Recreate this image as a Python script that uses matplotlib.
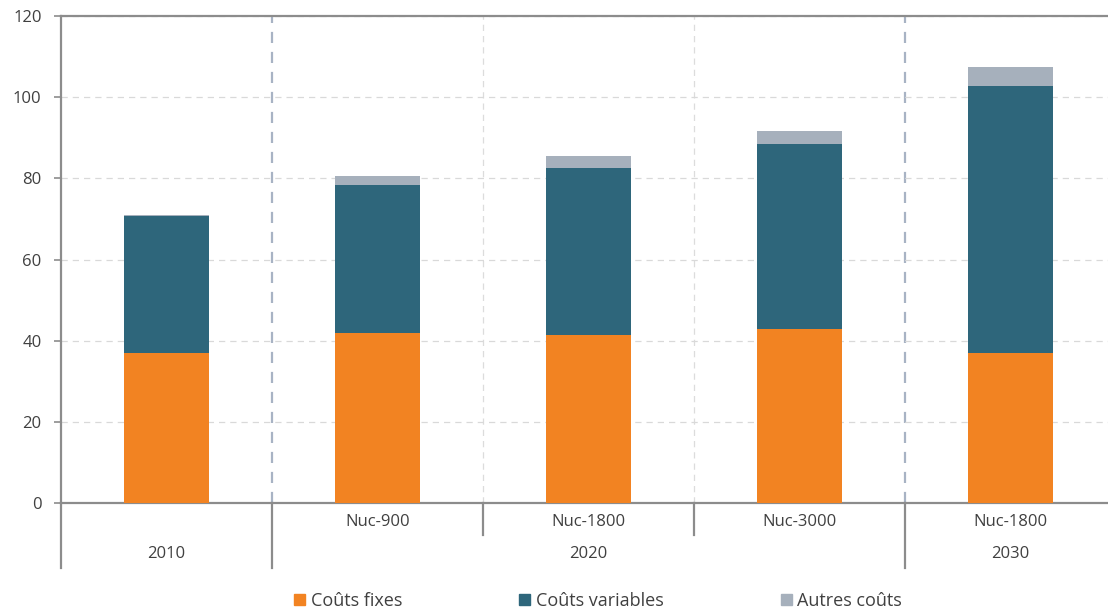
import matplotlib
matplotlib.use("Agg")
from matplotlib import pyplot as plt
from matplotlib.transforms import blended_transform_factory
from matplotlib.patches import Patch

# data
categories = ["", "Nuc-900", "Nuc-1800", "Nuc-3000", "Nuc-1800"]
groups = ["2010", "2020", "2030"]
group_spans = [(0, 0), (1, 3), (4, 4)]
fixes = [37.0, 41.9, 41.4, 42.9, 37.0]
variables = [33.7, 36.5, 41.2, 45.6, 65.8]
autres = [0.3, 2.2, 2.9, 3.2, 4.6]

c_fix = "#f28322"
c_var = "#2e667b"
c_aut = "#a6b0bc"
c_txt = "#404040"
c_axis = "#8c8c8c"

plt.rcParams['font.family'] = ['Open Sans', 'DejaVu Sans']

fig = plt.figure(figsize=[11.08, 6.13], dpi=100)
ax = fig.add_axes([61 / 1108, 110 / 613, 1055 / 1108, 487 / 613])

x = list(range(len(categories)))
w = 0.4
ax.bar(x, fixes, w, color=c_fix, zorder=3)
ax.bar(x, variables, w, bottom=fixes, color=c_var, zorder=3)
bot = [a + b for a, b in zip(fixes, variables)]
ax.bar(x, autres, w, bottom=bot, color=c_aut, zorder=3)

ax.set_xlim(-0.5, len(categories) - 0.5)
ax.set_ylim(0, 120)
ax.set_yticks(range(0, 121, 20))
ax.yaxis.grid(True, color="#d9d9d9", linestyle=(0, (5, 4)), linewidth=0.9, zorder=0)
ax.tick_params(axis='y', colors=c_axis, labelcolor=c_txt, labelsize=12, length=5, width=1.2, pad=9)
ax.tick_params(axis='x', bottom=False, labelbottom=False)
for s in ["left", "top", "bottom"]:
    ax.spines[s].set_color(c_axis)
    ax.spines[s].set_linewidth(1.6)
ax.spines["right"].set_visible(False)

# vertical dividers inside plot
group_edges = [s[0] - 0.5 for s in group_spans[1:]]
for i in range(1, len(categories)):
    xe = i - 0.5
    if xe in group_edges:
        ax.axvline(xe, color="#a8b3c4", linestyle=(0, (5, 4)), linewidth=1.6, zorder=1)
    else:
        ax.axvline(xe, color="#dcdcdc", linestyle=(0, (5, 4)), linewidth=0.9, zorder=1)

tr = blended_transform_factory(ax.transData, ax.transAxes)
h = ax.get_position().height * 6.13 * 100
deep = -65 / h
shallow = -32 / h
for i in range(len(categories) + 1):
    xe = i - 0.5
    y1 = deep if (xe in group_edges or i == 0 or i == len(categories)) else shallow
    ax.plot([xe, xe], [0, y1], color=c_axis, linewidth=1.6, transform=tr, clip_on=False)

for i, c in enumerate(categories):
    ax.text(i, -19 / h, c, transform=tr, ha="center", va="center", fontsize=12, color=c_txt)
for g, (a, b) in zip(groups, group_spans):
    ax.text((a + b) / 2, -51 / h, g, transform=tr, ha="center", va="center", fontsize=12, color=c_txt)

handles = [Patch(color=c_fix), Patch(color=c_var), Patch(color=c_aut)]
fig.legend(handles, ["Coûts fixes", "Coûts variables", "Autres coûts"], loc="center",
           bbox_to_anchor=(598 / 1108, 1 - 601 / 613), ncol=3, frameon=False,
           fontsize=13, handlelength=0.6, handleheight=0.6, handletextpad=0.3,
           columnspacing=6.5, labelcolor=c_txt)

fig.savefig("out.png", dpi=100)
